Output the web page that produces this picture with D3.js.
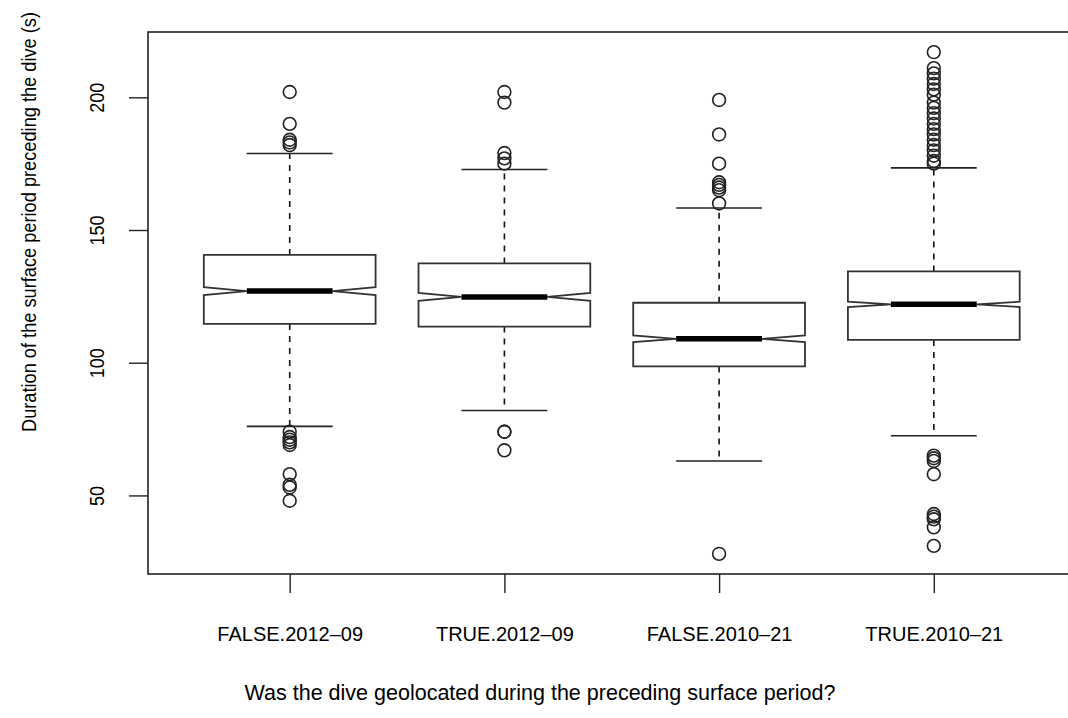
<!DOCTYPE html>
<html>
<head>
<meta charset="utf-8">
<script src="https://cdn.jsdelivr.net/npm/d3@7"></script>
<style>
  body { margin: 0; background: #fff; }
  text { font-family: "Liberation Sans", Arial, sans-serif; fill: #000; }
</style>
</head>
<body>
<div id="main"></div>
<script>
// groups and box statistics (seconds)
var groups = ["FALSE.2012\u201309", "TRUE.2012\u201309", "FALSE.2010\u201321", "TRUE.2010\u201321"];
var whiskerLo = [76, 82, 63, 72.5];
var q1 = [114.6, 113.6, 98.6, 108.6];
var median = [127, 124.8, 109, 122];
var q3 = [140.6, 137.4, 122.6, 134.4];
var whiskerHi = [178.8, 172.8, 158.3, 173.4];
var notchHalf = [1.5, 1.5, 1.25, 1.0];

var outliers = [
    [202, 190, 184, 183, 182, 74, 72, 71, 70, 69, 58, 54, 53, 48],
    [202, 198, 179, 177, 175, 74, 74, 67],
    [199, 186, 175, 168, 167, 166, 165, 160, 28],
    [217, 211, 209, 207, 205, 203, 201, 198, 196, 194, 192, 190, 188, 186, 184, 182, 180, 178, 176, 175,
     65, 64, 63, 58, 43, 42, 41, 38, 31]
];

var yTicks = [50, 100, 150, 200];

var width = 1068, height = 718;
var margin = {top: 32, left: 148, bottom: 574};

var svg = d3.select("#main")
    .append("svg")
    .attr("width", width)
    .attr("height", height);

// R-style extended ranges
var x = d3.scaleLinear()
    .domain([0.34, 4.66])
    .range([margin.left, margin.left + 4.32 * 214.7]);

var y = d3.scaleLinear()
    .domain([20.4, 224.6])
    .range([margin.bottom, margin.top]);

var boxHalf = 0.4, capHalf = 0.2;

var stroke = "#333";

// plot frame
svg.append("rect")
    .attr("x", x(0.34))
    .attr("y", y(224.6))
    .attr("width", x(4.66) - x(0.34))
    .attr("height", y(20.4) - y(224.6))
    .attr("fill", "none")
    .attr("stroke", "#222")
    .attr("stroke-width", 1.6);

// y axis
var yAxis = svg.append("g")
    .attr("transform", "translate(" + x(0.34) + ",0)")
    .call(d3.axisLeft(y).tickValues(yTicks).tickSize(19).tickPadding(0).tickFormat(d3.format("d")));
yAxis.select(".domain").remove();
yAxis.selectAll("line").attr("stroke", "#222").attr("stroke-width", 1.4);
yAxis.selectAll("text")
    .attr("transform", "translate(-51,0) rotate(-90)")
    .attr("x", 0).attr("y", 0).attr("dy", "0.35em")
    .attr("text-anchor", "middle")
    .style("font-size", "20px")
    .attr("textLength", function(d) { return d < 100 ? 20 : 30; })
    .attr("lengthAdjust", "spacingAndGlyphs");

// x axis
var xAxis = svg.append("g")
    .attr("transform", "translate(0," + y(20.4) + ")")
    .call(d3.axisBottom(x).tickValues([1, 2, 3, 4]).tickSize(19).tickPadding(0)
        .tickFormat(function(d) { return groups[d - 1]; }));
xAxis.select(".domain").remove();
xAxis.selectAll("line").attr("stroke", "#222").attr("stroke-width", 1.4);
xAxis.selectAll("text")
    .attr("y", 67).attr("dy", 0)
    .style("font-size", "20px");

// boxes
groups.forEach(function(g, i) {
    var c = i + 1;
    var grp = svg.append("g").attr("class", "box");

    // whiskers
    grp.append("line")
        .attr("x1", x(c)).attr("x2", x(c))
        .attr("y1", y(q3[i])).attr("y2", y(whiskerHi[i]))
        .attr("stroke", "#111").attr("stroke-width", 1.6).attr("stroke-dasharray", "6,6");
    grp.append("line")
        .attr("x1", x(c)).attr("x2", x(c))
        .attr("y1", y(q1[i])).attr("y2", y(whiskerLo[i]))
        .attr("stroke", "#111").attr("stroke-width", 1.6).attr("stroke-dasharray", "6,6");

    // staples
    [whiskerLo[i], whiskerHi[i]].forEach(function(v) {
        grp.append("line")
            .attr("x1", x(c - capHalf)).attr("x2", x(c + capHalf))
            .attr("y1", y(v)).attr("y2", y(v))
            .attr("stroke", "#222").attr("stroke-width", 1.6);
    });

    // notched box
    var nLo = median[i] - notchHalf[i], nHi = median[i] + notchHalf[i];
    var pts = [
        [c - boxHalf, q1[i]], [c - boxHalf, nLo], [c - boxHalf / 2, median[i]], [c - boxHalf, nHi],
        [c - boxHalf, q3[i]], [c + boxHalf, q3[i]], [c + boxHalf, nHi], [c + boxHalf / 2, median[i]],
        [c + boxHalf, nLo], [c + boxHalf, q1[i]]
    ];
    grp.append("path")
        .attr("d", d3.line().x(function(d) { return x(d[0]); }).y(function(d) { return y(d[1]); })(pts) + "Z")
        .attr("fill", "#fff")
        .attr("stroke", stroke)
        .attr("stroke-width", 1.8);

    // median
    grp.append("line")
        .attr("x1", x(c - boxHalf / 2)).attr("x2", x(c + boxHalf / 2))
        .attr("y1", y(median[i])).attr("y2", y(median[i]))
        .attr("stroke", "#000").attr("stroke-width", 5.5);

    // outliers
    grp.selectAll("circle")
        .data(outliers[i])
        .enter()
        .append("circle")
        .attr("cx", x(c))
        .attr("cy", function(d) { return y(d); })
        .attr("r", 6.4)
        .attr("fill", "none")
        .attr("stroke", "#222")
        .attr("stroke-width", 1.6);
});

// axis titles
svg.append("text")
    .attr("transform", "translate(36,222) rotate(-90)")
    .attr("text-anchor", "middle")
    .style("font-size", "20px")
    .attr("textLength", 420)
    .attr("lengthAdjust", "spacingAndGlyphs")
    .text("Duration of the surface period preceding the dive (s)");

svg.append("text")
    .attr("x", 540)
    .attr("y", 700)
    .attr("text-anchor", "middle")
    .style("font-size", "21.5px")
    .text("Was the dive geolocated during the preceding surface period?");
</script>
</body>
</html>
